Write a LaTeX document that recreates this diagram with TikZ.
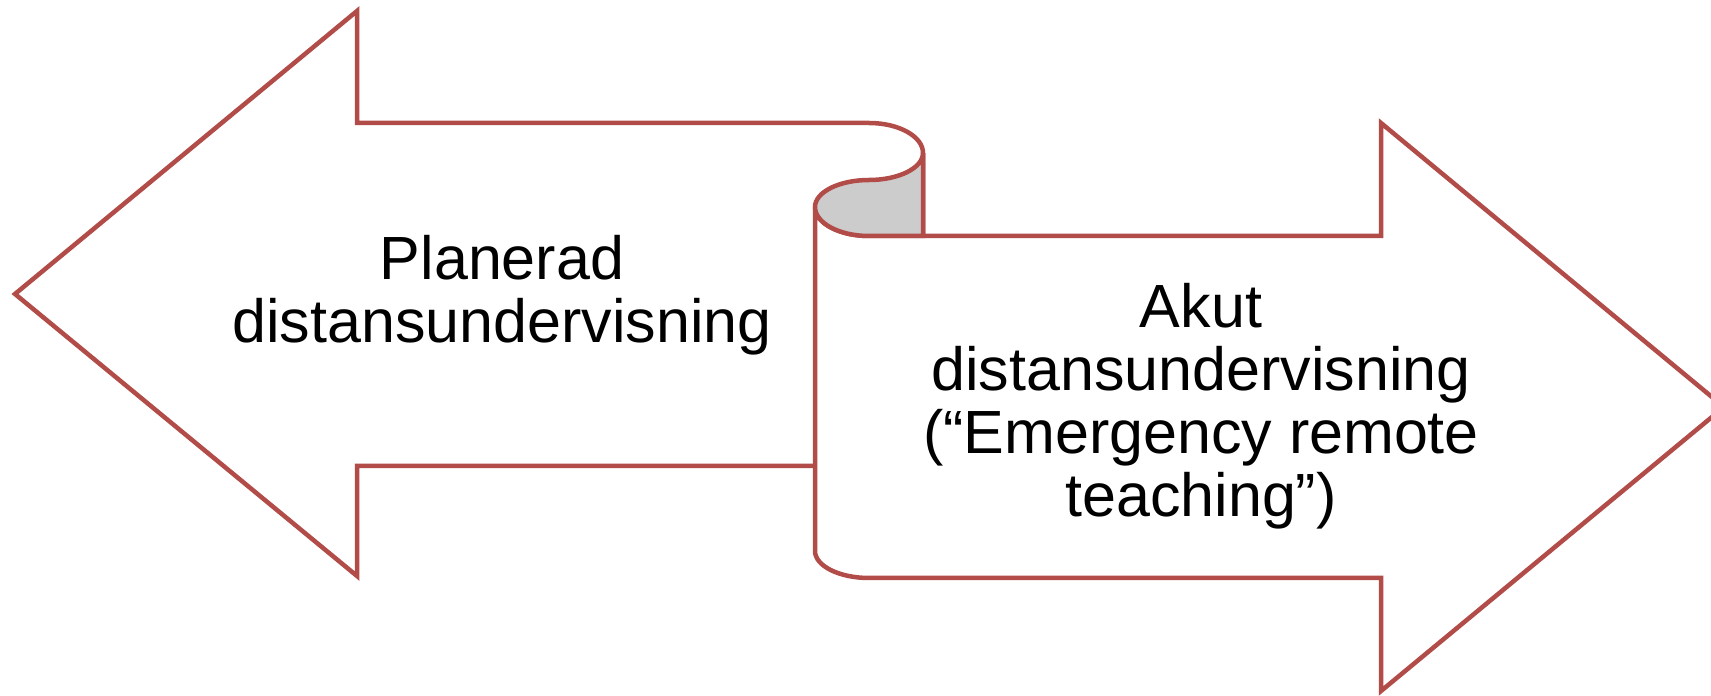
\documentclass[tikz,border=0pt]{standalone}
\usepackage{fontspec}
\setmainfont{Liberation Sans}
\definecolor{edge}{RGB}{178,76,72}
\definecolor{curlgray}{RGB}{204,204,204}
\tikzset{
  arrowshape/.style={draw=edge, line width=4.5pt, line join=miter, fill=white},
  arrowlabel/.style={align=center, font=\fontsize{61}{63}\selectfont, text=black, inner sep=0pt}
}
\begin{document}
\begin{tikzpicture}[x=1pt,y=1pt]
\useasboundingbox (0,0) rectangle (1711,696);
\clip (0,0) rectangle (1711,696);
% left arrow
\draw[arrowshape] (15,402) -- (357,685) -- (357,573) -- (869,573)
  arc[start angle=90, end angle=0, x radius=54, y radius=30]
  -- (923,230) -- (357,230) -- (357,120) -- cycle;
% right ribbon arrow
\draw[arrowshape] (815,489) -- (815,145)
  arc[start angle=180, end angle=270, x radius=54, y radius=27]
  -- (1381,118) -- (1381,5) -- (1724,289) -- (1381,573) -- (1381,460) -- (869,460)
  arc[start angle=270, end angle=180, x radius=54, y radius=29] -- cycle;
% curl
\draw[arrowshape, fill=curlgray] (815,489)
  arc[start angle=180, end angle=90, x radius=54, y radius=27]
  arc[start angle=270, end angle=360, x radius=54, y radius=27]
  -- (923,460) -- (869,460)
  arc[start angle=270, end angle=180, x radius=54, y radius=29] -- cycle;
\node[arrowlabel] (planned) at (502,401) {Planerad\\distansundervisning};
\node[arrowlabel] (acute) at (1201,290) {Akut\\distansundervisning\\(“Emergency remote\\teaching”)};
\end{tikzpicture}
\end{document}
